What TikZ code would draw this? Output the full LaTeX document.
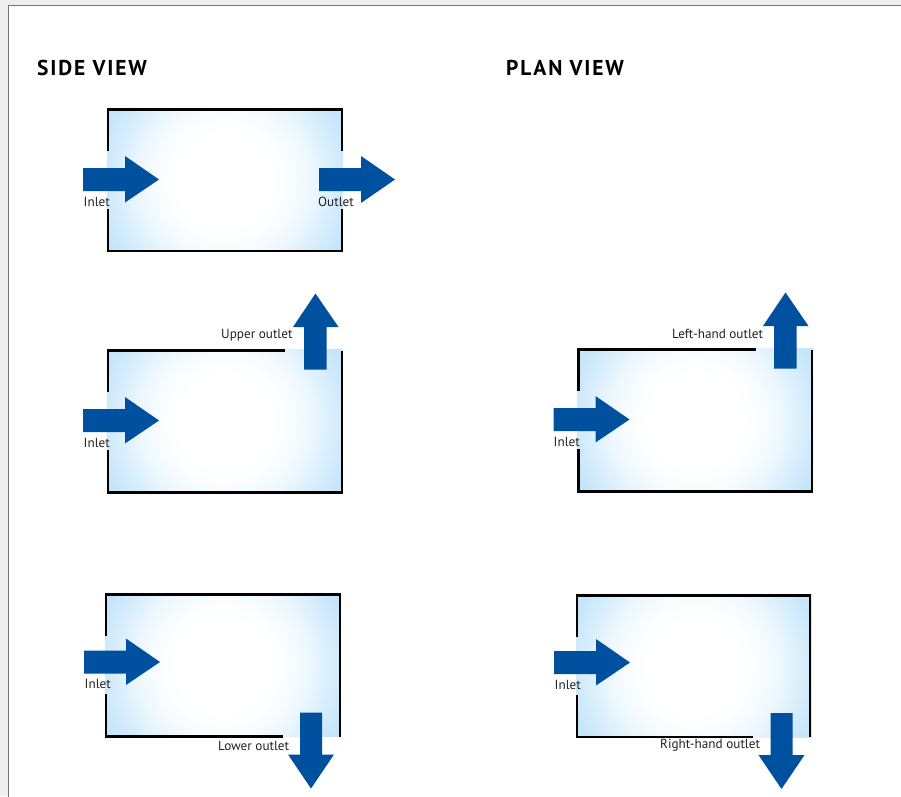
\documentclass[tikz,border=0pt]{standalone}
\usepackage{fontspec}
\setmainfont{PT Sans}
\newfontfamily\headfont[LetterSpace=8.5]{PT Sans}
\definecolor{pagegray}{HTML}{EFEFEF}
\definecolor{edgegray}{HTML}{777777}
\definecolor{flowblue}{HTML}{0050A0}
\definecolor{paleblue}{HTML}{C5E5FB}
\definecolor{labelink}{HTML}{222222}
\definecolor{glowa}{HTML}{FAFDFF}
\definecolor{glowb}{HTML}{EEF8FE}
\definecolor{glowc}{HTML}{D6EDFC}
\pgfdeclareradialshading{tankglow}{\pgfpointorigin}{
  color(0bp)=(white); color(9bp)=(white); color(13bp)=(glowa); color(17bp)=(glowb); color(22bp)=(glowc); color(26bp)=(paleblue); color(50bp)=(paleblue)}
\tikzset{
  wall/.style={line width=2.6pt,black,line cap=butt,line join=miter},
  flow/.style={fill=flowblue,draw=none},
  lab/.style={font=\fontsize{13.2}{15}\selectfont,text=labelink,inner sep=0pt,anchor=west},
  head/.style={font=\fontsize{21.5}{24}\selectfont\headfont\bfseries,text=black,inner sep=0pt,anchor=base west}
}
% #1,#2: top-left of tank
\newcommand{\tankfill}[2]{%
  \begin{scope}[shift={(#1,#2)}]
    \begin{scope}
      \clip (-1,-1) rectangle (234.5,142);
      \shade[shading=tankglow] (-8,-54) rectangle (242,196);
    \end{scope}
  \end{scope}}
\newcommand{\inflow}[2]{%
  \begin{scope}[shift={(#1,#2)}]
    \fill[flow] (-25,58.5) -- (17,58.5) -- (17,46.5) -- (51,70) -- (17,93) -- (17,81.5) -- (-25,81.5) -- cycle;
  \end{scope}}
\newcommand{\outup}[2]{%
  \begin{scope}[shift={(#1,#2)}]
    \fill[flow] (196,19) -- (196,-23.5) -- (185,-23.5) -- (207.5,-57) -- (230.5,-23.5) -- (218.5,-23.5) -- (218.5,19) -- cycle;
  \end{scope}}
\newcommand{\outdown}[2]{%
  \begin{scope}[shift={(#1,#2)}]
    \fill[flow] (194,118) -- (194,160) -- (182,160) -- (205,194) -- (228,160) -- (216,160) -- (216,118) -- cycle;
  \end{scope}}
\begin{document}
\begin{tikzpicture}[x=1pt,y=-1pt]
\useasboundingbox (0,0) rectangle (901,796);
\fill[pagegray] (0,0) rectangle (901,796);
\fill[white,draw=edgegray,line width=1pt] (8.5,5.5) rectangle (910,810);
\clip (0,0) rectangle (901,796);
\node[head] (sidehead) at (37,75) {SIDE VIEW};
\node[head] (planhead) at (506,75) {PLAN VIEW};
% tank 1: side, straight through
\tankfill{108}{109.5}
\begin{scope}[shift={(108,109.5)}]
  \draw[wall] (0,41.5) -- (0,0) -- (234,0) -- (234,41.5);
  \draw[wall] (0,99.5) -- (0,141.5) -- (234,141.5) -- (234,99.5);
\end{scope}
\inflow{108}{109.5}
\fill[flow] (319,168) -- (361,168) -- (361,156) -- (395,179.5) -- (361,203) -- (361,191) -- (319,191) -- cycle;
\node[lab] (inleta) at (83.5,201.5) {Inlet};
\node[lab] (outleta) at (318,201.5) {Outlet};
% tank 2: side, upper outlet
\tankfill{108}{350.5}
\begin{scope}[shift={(108,350.5)}]
  \draw[wall] (177,0) -- (0,0) -- (0,41.5);
  \draw[wall] (0,99.5) -- (0,142) -- (234,142) -- (234,0);
\end{scope}
\inflow{108}{350.5}
\outup{108}{350.5}
\node[lab] (inletb) at (83.5,443) {Inlet};
\node[lab] (upper) at (221,335) {Upper outlet};
% tank 3: plan, left-hand outlet
\tankfill{578.5}{349.5}
\begin{scope}[shift={(578.5,349.5)}]
  \draw[wall] (177,0) -- (0,0) -- (0,41.5);
  \draw[wall] (0,99.5) -- (0,142) -- (233.5,142) -- (233.5,0);
\end{scope}
\inflow{578.5}{349.5}
\outup{578}{349.5}
\node[lab] (inletc) at (553.5,442) {Inlet};
\node[lab] (lefthand) at (672,333.5) {Left-hand outlet};
% tank 4: side, lower outlet
\tankfill{106}{594.5}
\begin{scope}[shift={(106,594.5)}]
  \draw[wall] (0,41.5) -- (0,0) -- (234,0) -- (234,142);
  \draw[wall] (0,99.5) -- (0,142) -- (177,142);
\end{scope}
\inflow{109}{592}
\outdown{106}{594.5}
\node[lab] (inletd) at (84.5,684) {Inlet};
\node[lab] (lower) at (218,745.5) {Lower outlet};
% tank 5: plan, right-hand outlet
\tankfill{577}{595.5}
\begin{scope}[shift={(577,595.5)}]
  \draw[wall] (0,41.5) -- (0,0) -- (233,0) -- (233,141.5);
  \draw[wall] (0,99.5) -- (0,141.5) -- (176,141.5);
\end{scope}
\inflow{579}{592.5}
\outdown{576.5}{595}
\node[lab] (inlete) at (554.5,685) {Inlet};
\node[lab] (righthand) at (660,745.5) {Right-hand outlet};
\end{tikzpicture}
\end{document}
